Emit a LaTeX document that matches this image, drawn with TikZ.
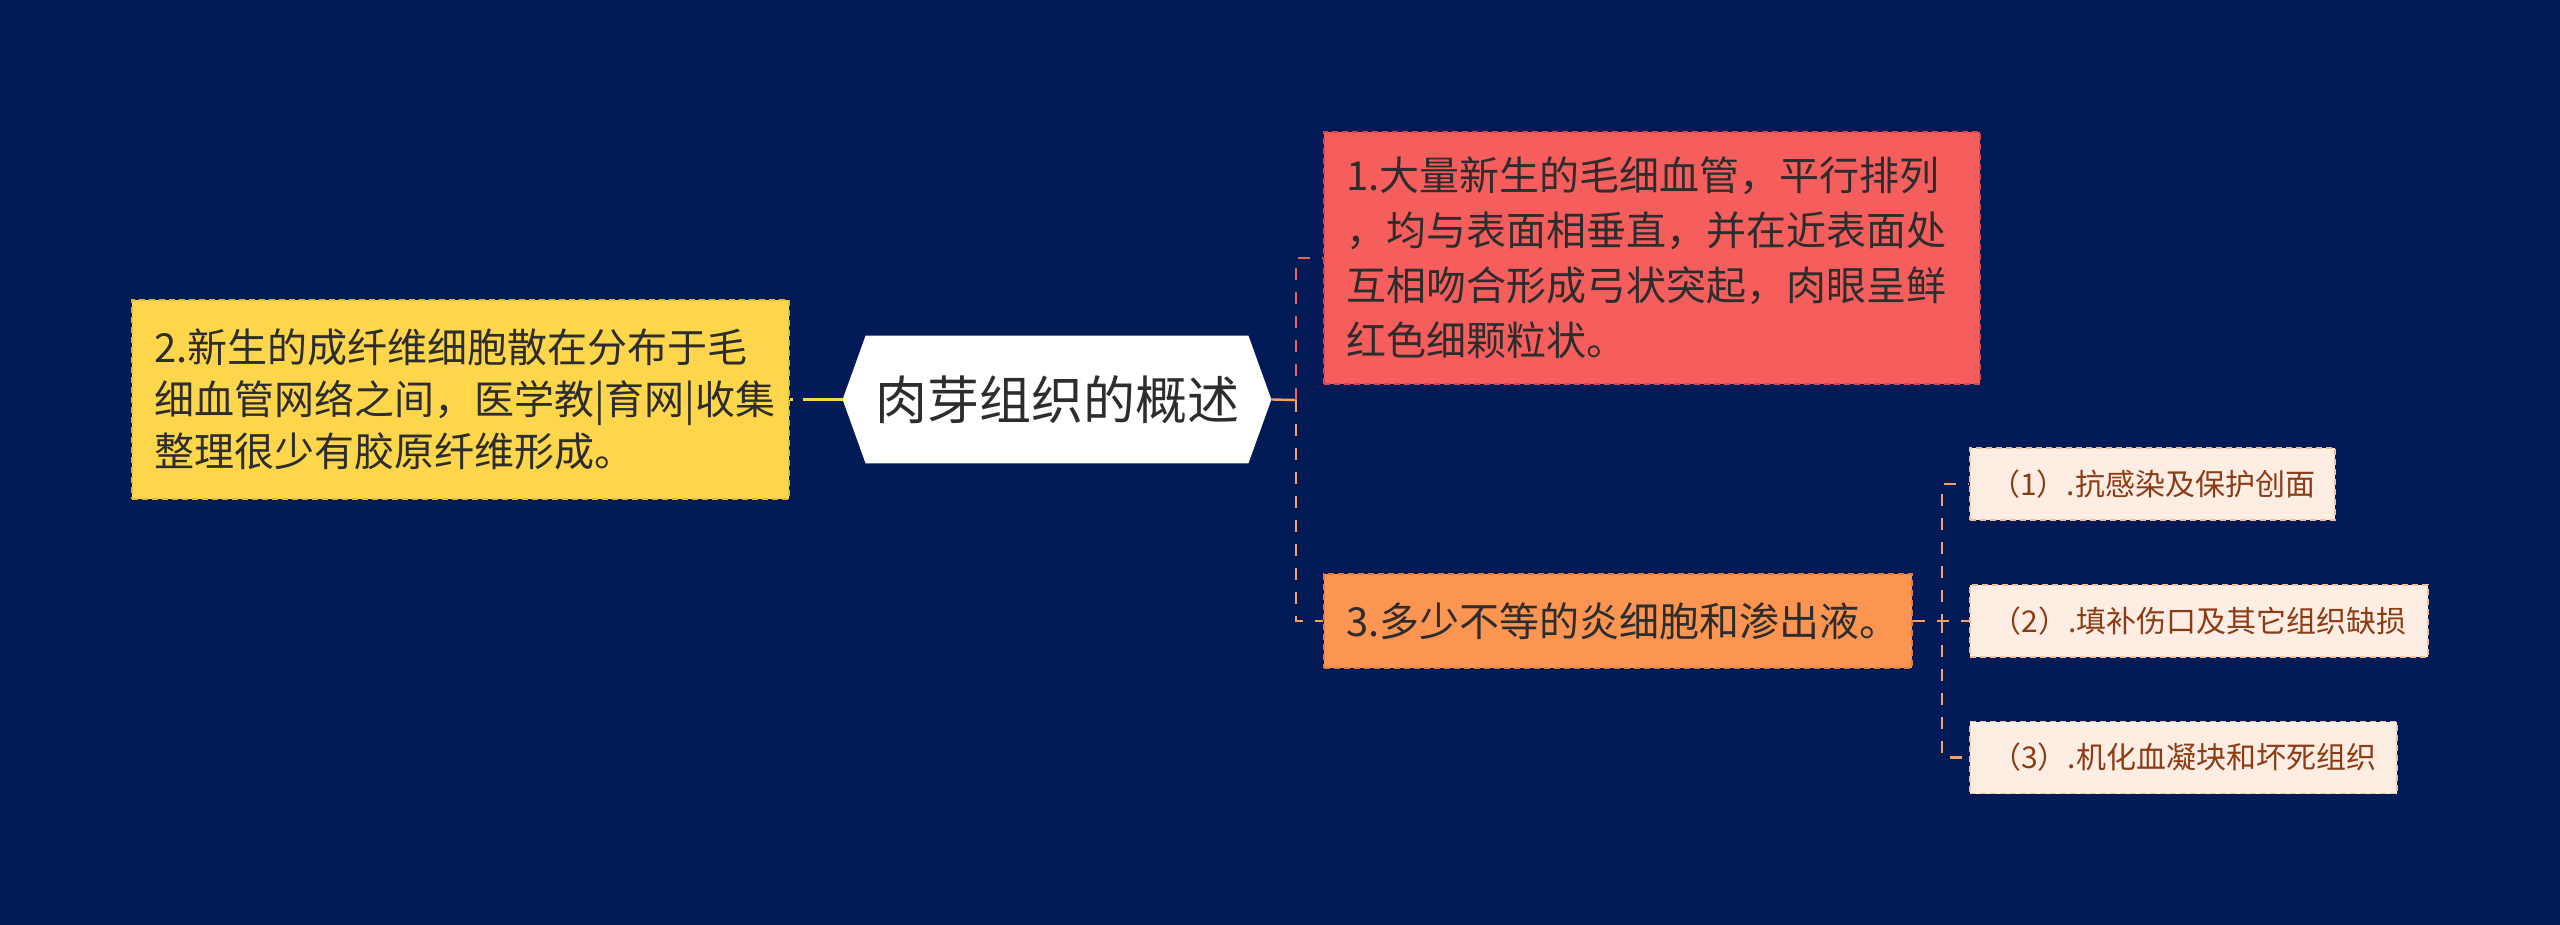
\documentclass[tikz,border=0pt]{standalone}
\usepackage{fontspec}
\setmainfont{Noto Sans CJK SC}
\usetikzlibrary{backgrounds}
\definecolor{bg}{RGB}{2,27,86}
\definecolor{redbox}{RGB}{246,94,94}
\definecolor{redborder}{RGB}{214,70,74}
\definecolor{orangebox}{RGB}{253,149,82}
\definecolor{orangeborder}{RGB}{226,124,62}
\definecolor{orangeline}{RGB}{245,160,100}
\definecolor{yellowbox}{RGB}{253,214,76}
\definecolor{yellowborder}{RGB}{222,184,50}
\definecolor{subbox}{RGB}{253,237,227}
\definecolor{subborder}{RGB}{240,190,160}
\definecolor{subtext}{RGB}{140,60,20}
\definecolor{maintext}{RGB}{45,45,45}
\tikzset{
  box/.style={draw, dash pattern=on 3pt off 2pt, line width=0.8pt, inner xsep=11pt, inner ysep=0pt,
    align=left, text=maintext, font=\fontsize{20}{26}\selectfont},
  subnode/.style={draw=subborder, fill=subbox, dash pattern=on 3pt off 2pt, line width=0.8pt,
    inner sep=0pt, align=center, text=subtext, font=\fontsize{15}{18}\selectfont, minimum height=36pt},
  conn/.style={line width=1.2pt, dash pattern=on 6pt off 6pt},
}
\begin{document}
\begin{tikzpicture}[x=0.5pt,y=-0.5pt]
\begin{pgfonlayer}{background}
\fill[bg] (0,0) rectangle (2560,925);
\end{pgfonlayer}

% central topic
\node[minimum width=191pt, minimum height=63.5pt, inner sep=0pt, text=maintext,
  font=\fontsize{26}{30}\selectfont] (c) at (1057,399.5) {肉芽组织的概述};
\coordinate (ctl) at ([xshift=-11.5pt]c.west);
\coordinate (ctr) at ([xshift=11.5pt]c.east);
\begin{pgfonlayer}{background}
\fill[white] (c.north west) -- (c.north east) -- (ctr) -- (c.south east) -- (c.south west) -- (ctl) -- cycle;
\end{pgfonlayer}

% left branch
\node[box, draw=yellowborder, fill=yellowbox, text width=306.5pt, minimum height=99.5pt] (y) at (460.5,399.5)
  {2.新生的成纤维细胞散在分布于毛\\细血管网络之间，医学教|育网|收集\\整理很少有胶原纤维形成。};

% right branches
\node[box, draw=redborder, fill=redbox, text width=306pt, minimum height=126pt,
  font=\fontsize{20}{27.5}\selectfont] (r) at (1652,258)
  {1.大量新生的毛细血管，平行排列\\，均与表面相垂直，并在近表面处\\互相吻合形成弓状突起，肉眼呈鲜\\红色细颗粒状。};
\node[box, draw=orangeborder, fill=orangebox, text width=272pt, minimum height=47pt] (o) at (1618,621)
  {3.多少不等的炎细胞和渗出液。};

% sub nodes
\node[subnode, minimum width=182.5pt] (s1) at (2152.5,484) {（1）.抗感染及保护创面};
\node[subnode, minimum width=229pt] (s2) at (2199,621) {（2）.填补伤口及其它组织缺损};
\node[subnode, minimum width=213.5pt] (s3) at (2183.5,757.5) {（3）.机化血凝块和坏死组织};

% connectors
\coordinate (j) at (1296,400);
\coordinate (k) at (1942,621);
\draw[line width=1.2pt, yellowbox, dash pattern=on 20pt off 5pt] (ctl) -- (y.east);
\draw[line width=1.2pt, orangeline] (ctr) -- (j);
\draw[conn, redbox] (j) |- (r.west);
\draw[conn, orangeline] (j) |- (o.west);
\draw[conn, orangeline] (o.east) -- (k) |- (s1.west);
\draw[conn, orangeline] (o.east) -- (s2.west);
\draw[conn, orangeline] (k) |- (s3.west);
\end{tikzpicture}
\end{document}
